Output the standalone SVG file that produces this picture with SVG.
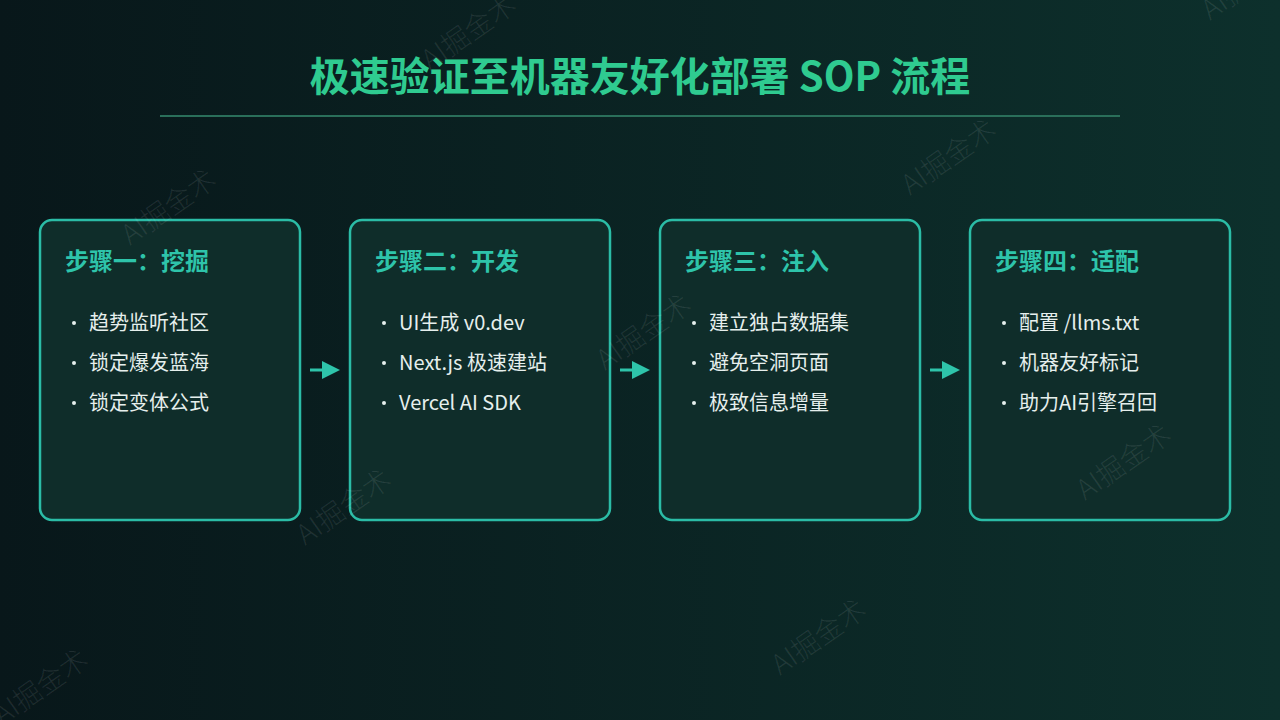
<svg xmlns="http://www.w3.org/2000/svg" width="1280" height="720" viewBox="0 0 1280 720">
  <defs>
    <linearGradient id="bg" x1="0" y1="0" x2="1" y2="0">
      <stop offset="0" stop-color="#08171a"/>
      <stop offset="1" stop-color="#0d302c"/>
    </linearGradient>
    <marker id="arrow" viewBox="0 0 10 10" refX="0" refY="5" markerWidth="20" markerHeight="18" markerUnits="userSpaceOnUse" orient="auto">
      <path d="M0,0 L10,5 L0,10 Z" fill="#2ec4aa"/>
    </marker>
    <style>
      .title { font-family: "Noto Sans CJK SC", "Noto Sans", sans-serif; font-size: 40px; font-weight: 700; fill: #2fcb90; }
      .card { fill: #0f2d2a; stroke: #2bbca6; stroke-width: 2.5; }
      .head { font-family: "Noto Sans CJK SC", "Noto Sans", sans-serif; font-size: 24px; font-weight: 700; fill: #2ec4aa; }
      .item { font-family: "Noto Sans CJK SC", "Noto Sans", sans-serif; font-size: 20px; fill: #e6efed; }
      .dot { fill: #e6efed; }
      .conn { stroke: #2ec4aa; stroke-width: 3; fill: none; }
      .wm { font-family: "Noto Sans CJK SC", "Noto Sans", sans-serif; font-size: 28px; font-weight: 300; fill: #ffffff; fill-opacity: 0.09; }
    </style>
  </defs>
  <rect x="0" y="0" width="1280" height="720" fill="url(#bg)"/>

  <g id="title">
    <text class="title" x="640" y="91" text-anchor="middle">极速验证至机器友好化部署 SOP 流程</text>
    <line x1="160" y1="116" x2="1120" y2="116" stroke="#2a6f5a" stroke-width="2"/>
  </g>

  <g id="step1">
    <rect class="card" x="40" y="220" width="260" height="300" rx="12"/>
    <text class="head" x="65" y="270">步骤一：挖掘</text>
    <circle class="dot" cx="74" cy="323" r="2"/>
    <text class="item" x="89" y="330">趋势监听社区</text>
    <circle class="dot" cx="74" cy="363" r="2"/>
    <text class="item" x="89" y="370">锁定爆发蓝海</text>
    <circle class="dot" cx="74" cy="403" r="2"/>
    <text class="item" x="89" y="410">锁定变体公式</text>
  </g>

  <g id="step2">
    <rect class="card" x="350" y="220" width="260" height="300" rx="12"/>
    <text class="head" x="375" y="270">步骤二：开发</text>
    <circle class="dot" cx="384" cy="323" r="2"/>
    <text class="item" x="399" y="330">UI生成 v0.dev</text>
    <circle class="dot" cx="384" cy="363" r="2"/>
    <text class="item" x="399" y="370">Next.js 极速建站</text>
    <circle class="dot" cx="384" cy="403" r="2"/>
    <text class="item" x="399" y="410">Vercel AI SDK</text>
  </g>

  <g id="step3">
    <rect class="card" x="660" y="220" width="260" height="300" rx="12"/>
    <text class="head" x="685" y="270">步骤三：注入</text>
    <circle class="dot" cx="694" cy="323" r="2"/>
    <text class="item" x="709" y="330">建立独占数据集</text>
    <circle class="dot" cx="694" cy="363" r="2"/>
    <text class="item" x="709" y="370">避免空洞页面</text>
    <circle class="dot" cx="694" cy="403" r="2"/>
    <text class="item" x="709" y="410">极致信息增量</text>
  </g>

  <g id="step4">
    <rect class="card" x="970" y="220" width="260" height="300" rx="12"/>
    <text class="head" x="995" y="270">步骤四：适配</text>
    <circle class="dot" cx="1004" cy="323" r="2"/>
    <text class="item" x="1019" y="330">配置 /llms.txt</text>
    <circle class="dot" cx="1004" cy="363" r="2"/>
    <text class="item" x="1019" y="370">机器友好标记</text>
    <circle class="dot" cx="1004" cy="403" r="2"/>
    <text class="item" x="1019" y="410">助力AI引擎召回</text>
  </g>

  <g id="connectors">
    <line class="conn" x1="310" y1="370" x2="322" y2="370" marker-end="url(#arrow)"/>
    <line class="conn" x1="620" y1="370" x2="632" y2="370" marker-end="url(#arrow)"/>
    <line class="conn" x1="930" y1="370" x2="942" y2="370" marker-end="url(#arrow)"/>
  </g>

  <g id="watermarks">
    <text class="wm" transform="translate(130,246) rotate(-35)">AI掘金术</text>
    <text class="wm" transform="translate(430,71) rotate(-35)">AI掘金术</text>
    <text class="wm" transform="translate(910,196) rotate(-35)">AI掘金术</text>
    <text class="wm" transform="translate(1210,21) rotate(-35)">AI掘金术</text>
    <text class="wm" transform="translate(605,371) rotate(-35)">AI掘金术</text>
    <text class="wm" transform="translate(305,546) rotate(-35)">AI掘金术</text>
    <text class="wm" transform="translate(1085,501) rotate(-35)">AI掘金术</text>
    <text class="wm" transform="translate(780,676) rotate(-35)">AI掘金术</text>
    <text class="wm" transform="translate(2,726) rotate(-35)">AI掘金术</text>
  </g>
</svg>
